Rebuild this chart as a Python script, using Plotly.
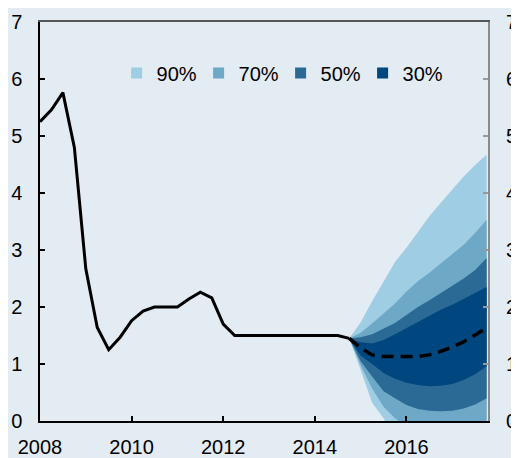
import plotly.graph_objects as go

# ---------------- data ----------------
hist_x = [2008.0, 2008.25, 2008.5, 2008.75, 2009.0, 2009.25, 2009.5, 2009.75,
          2010.0, 2010.25, 2010.5, 2010.75, 2011.0, 2011.25, 2011.5, 2011.75,
          2012.0, 2012.25, 2012.5, 2012.75, 2013.0, 2013.25, 2013.5, 2013.75,
          2014.0, 2014.25, 2014.5, 2014.75]
hist_y = [5.25, 5.46, 5.76, 4.80, 2.67, 1.64, 1.25, 1.47,
          1.76, 1.93, 2.00, 2.00, 2.00, 2.14, 2.26, 2.16,
          1.70, 1.50, 1.50, 1.50, 1.50, 1.50, 1.50, 1.50,
          1.50, 1.50, 1.50, 1.45]

fc_x = [2014.75, 2015.0, 2015.25, 2015.5, 2015.75, 2016.0, 2016.25,
        2016.5, 2016.75, 2017.0, 2017.25, 2017.5, 2017.75]
median = [1.45, 1.28, 1.16, 1.13, 1.13, 1.13, 1.13, 1.16, 1.22, 1.30, 1.39, 1.51, 1.63]

up90 = [1.45, 1.73, 2.10, 2.45, 2.79, 3.04, 3.31, 3.59, 3.83, 4.07, 4.29, 4.49, 4.67]
up70 = [1.45, 1.55, 1.71, 1.88, 2.06, 2.27, 2.45, 2.60, 2.76, 2.93, 3.09, 3.30, 3.53]
up50 = [1.45, 1.47, 1.52, 1.62, 1.72, 1.86, 2.00, 2.12, 2.25, 2.37, 2.50, 2.65, 2.86]
up30 = [1.45, 1.38, 1.36, 1.42, 1.52, 1.63, 1.74, 1.84, 1.95, 2.04, 2.14, 2.24, 2.35]
lo30 = [1.45, 1.15, 1.00, 0.84, 0.74, 0.67, 0.63, 0.61, 0.62, 0.65, 0.72, 0.82, 0.96]
lo50 = [1.45, 1.05, 0.78, 0.52, 0.40, 0.28, 0.21, 0.18, 0.17, 0.18, 0.22, 0.29, 0.40]
lo70 = [1.45, 0.98, 0.57, 0.25, 0.05, -0.10, -0.20, -0.25, -0.28, -0.28, -0.25, -0.20, -0.12]
lo90 = [1.45, 0.90, 0.32, 0.05, -0.30, -0.50, -0.65, -0.75, -0.80, -0.80, -0.78, -0.72, -0.65]

band_names = ["90%", "70%", "50%", "30%"]
band_upper = [up90, up70, up50, up30]
band_lower = [lo90, lo70, lo50, lo30]
band_colors = ["#9ECDE4", "#6EA8C7", "#2B6A94", "#00467F"]

y_ticks = [0, 1, 2, 3, 4, 5, 6, 7]
x_ticks = [2008, 2010, 2012, 2014, 2016]
x_labels = ["2008", "2010", "2012", "2014", "2016"]

BG = "#E3EBF3"
FONT = "Liberation Sans, Arial, sans-serif"

fig = go.Figure()

# fan bands (outermost first)
for name, up, lo, col in zip(band_names, band_upper, band_lower, band_colors):
    fig.add_trace(go.Scatter(
        x=fc_x + fc_x[::-1], y=up + lo[::-1],
        mode="lines", fill="toself", fillcolor=col,
        line=dict(width=0, color=col), showlegend=False, hoverinfo="skip"))

# legend proxies
for name, col in zip(band_names, band_colors):
    fig.add_trace(go.Scatter(
        x=[None], y=[None], mode="markers", name=name,
        marker=dict(symbol="square", size=11, color=col)))

# median projection
fig.add_trace(go.Scatter(
    x=fc_x, y=median, mode="lines", showlegend=False,
    line=dict(color="black", width=3.5, dash="12px,7px")))

# history
fig.add_trace(go.Scatter(
    x=hist_x, y=hist_y, mode="lines", showlegend=False,
    line=dict(color="black", width=3)))

# dummy for secondary axes
fig.add_trace(go.Scatter(x=[2010], y=[1], xaxis="x2", yaxis="y2",
                         mode="markers", marker=dict(opacity=0),
                         showlegend=False, hoverinfo="skip"))

XR = [2008, 2017.78]
fig.update_layout(
    width=519, height=458,
    margin=dict(l=32, r=39, t=14, b=45),
    paper_bgcolor=BG, plot_bgcolor=BG,
    font=dict(family=FONT, size=20, color="black"),
    xaxis=dict(range=XR, tickvals=x_ticks, ticktext=x_labels,
               ticks="inside", ticklen=5, tickwidth=1.5, tickcolor="black",
               showline=True, linecolor="black", linewidth=1.5,
               showgrid=False, zeroline=False, ticklabelstandoff=7,
               automargin=False),
    xaxis2=dict(range=XR, overlaying="x", side="top", showline=True,
                linecolor="#555555", linewidth=1.5, showticklabels=False,
                ticks="", showgrid=False, zeroline=False, automargin=False),
    yaxis=dict(range=[0, 7], tickvals=y_ticks, ticks="inside", ticklen=5,
               tickwidth=1.5, tickcolor="black", showline=True,
               linecolor="black", linewidth=1.5, showgrid=False,
               zeroline=False, ticklabelstandoff=12, automargin=False),
    yaxis2=dict(range=[0, 7], tickvals=y_ticks, overlaying="y", side="right",
                anchor="x", ticks="inside", ticklen=5, tickwidth=1.5,
                tickcolor="#9A9A9A", showline=True, linecolor="#8A8A8A",
                linewidth=2, showgrid=False, zeroline=False,
                ticklabelstandoff=12, automargin=False),
    legend=dict(orientation="h", x=0.171, y=0.872, xanchor="left",
                yanchor="middle", bgcolor="rgba(0,0,0,0)",
                font=dict(size=20), itemwidth=30,
                entrywidth=37, entrywidthmode="pixels", tracegroupgap=0),
)

fig.write_html("out.html")
